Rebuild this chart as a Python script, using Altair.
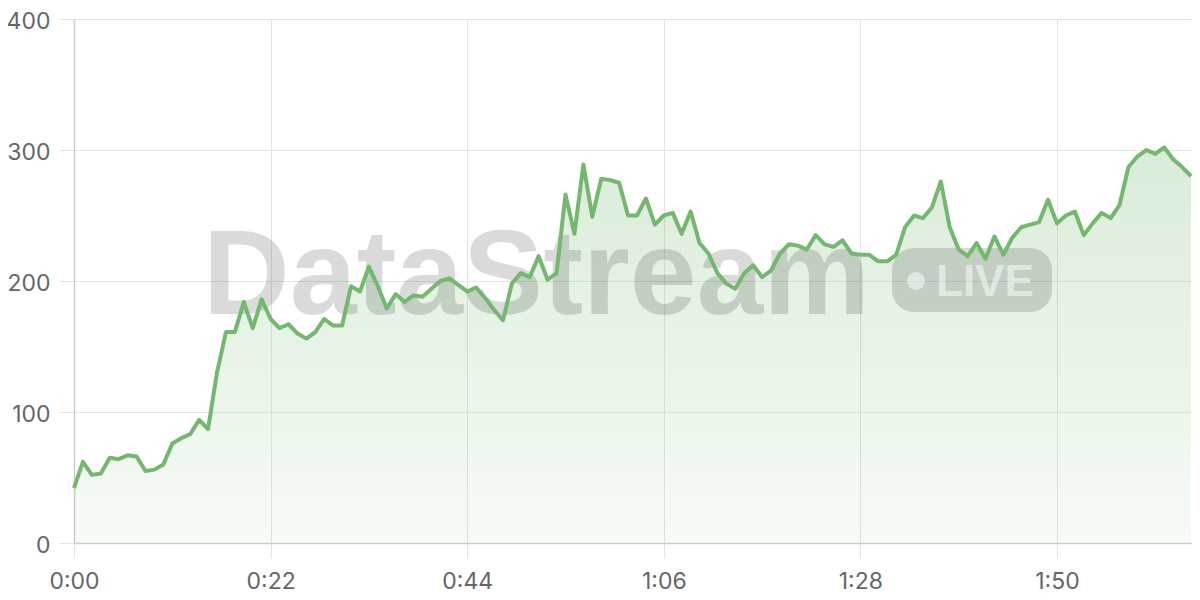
import altair as alt
import pandas as pd

# Values per second (0:00 .. 2:05)
values = [
    42, 62, 52, 53, 65, 64, 67, 66, 55, 56,
    60, 76, 80, 83, 94, 87, 130, 161, 161, 184,
    164, 186, 171, 164, 167, 160, 156, 161, 171, 166,
    166, 196, 192, 211, 196, 179, 190, 184, 189, 188,
    194, 200, 202, 197, 192, 195, 187, 178, 170, 198,
    206, 203, 219, 201, 206, 266, 236, 289, 249, 278,
    277, 275, 250, 250, 263, 243, 250, 252, 236, 253,
    229, 221, 206, 198, 194, 206, 212, 203, 208, 221,
    228, 227, 224, 235, 228, 226, 231, 221, 220, 220,
    215, 215, 220, 241, 250, 248, 256, 276, 241, 224,
    219, 229, 217, 234, 220, 233, 241, 243, 245, 262,
    244, 250, 253, 235, 244, 252, 248, 258, 287, 295,
    300, 297, 302, 293, 287, 280,
]
seconds = list(range(len(values)))
x_ticks = [0, 22, 44, 66, 88, 110]
y_ticks = [0, 100, 200, 300, 400]

df = pd.DataFrame({"t": seconds, "v": values})
one = pd.DataFrame({"k": [0]})

GREEN = "#74b870"
FONT = "Inter"

x_enc = alt.X(
    "t:Q",
    scale=alt.Scale(domain=[0, len(values) - 1], nice=False, zero=False),
    axis=alt.Axis(
        values=x_ticks,
        labelExpr="floor(datum.value/60) + ':' + (datum.value%60 < 10 ? '0' : '') + (datum.value%60)",
        labelFlush=False,
        title=None,
    ),
)
y_enc = alt.Y(
    "v:Q",
    scale=alt.Scale(domain=[0, 400], nice=False),
    axis=alt.Axis(values=y_ticks, title=None, labelFlush=False, labelOffset=2),
)

area = alt.Chart(df).mark_area(
    interpolate="linear",
    color=alt.Gradient(
        gradient="linear",
        stops=[
            alt.GradientStop(color="rgba(116,184,112,0.27)", offset=0),
            alt.GradientStop(color="rgba(116,184,112,0.06)", offset=1),
        ],
        x1=1, x2=1, y1=0, y2=1,
    ),
).encode(x=x_enc, y=y_enc)

line = alt.Chart(df).mark_line(
    color=GREEN, strokeWidth=4, strokeJoin="round", interpolate="linear"
).encode(x=x_enc, y=y_enc)

wm_text = alt.Chart(one).mark_text(
    text="DataStream", font="Liberation Sans", fontWeight="bold", fontSize=120,
    align="left", baseline="alphabetic", color="#000000", opacity=0.14,
).encode(x=alt.value(129), y=alt.value(295))

pill = alt.Chart(one).mark_rect(
    cornerRadius=22, color="#000000", opacity=0.14,
).encode(x=alt.value(818), x2=alt.value(978), y=alt.value(229), y2=alt.value(293))

dot = alt.Chart(one).mark_circle(
    color="#ffffff", opacity=0.5, size=320,
).encode(x=alt.value(842), y=alt.value(262))

live = alt.Chart(one).mark_text(
    text="LIVE", font="Liberation Sans", fontWeight="bold", fontSize=44,
    align="left", baseline="alphabetic", color="#ffffff", opacity=0.5,
).encode(x=alt.value(862), y=alt.value(277))

chart = (
    alt.layer(area, wm_text, pill, dot, live, line)
    .properties(
        width=1117,
        height=524,
        autosize=alt.AutoSizeParams(type="none"),
        padding={"left": 66, "top": 11, "right": 1, "bottom": 54},
        background="#ffffff",
    )
    .configure_view(strokeWidth=0)
    .configure_axis(
        labelFont=FONT,
        labelFontSize=23,
        labelColor="#666666",
        gridColor="#e4e4e4",
        gridWidth=1,
        tickColor="#e4e4e4",
        tickSize=15,
        domainColor="#cccccc",
        domainWidth=1.5,
    )
    .configure_axisY(labelPadding=9)
    .configure_axisX(labelPadding=12)
)

chart.save("out.html", embed_options={"renderer": "svg", "actions": False})
